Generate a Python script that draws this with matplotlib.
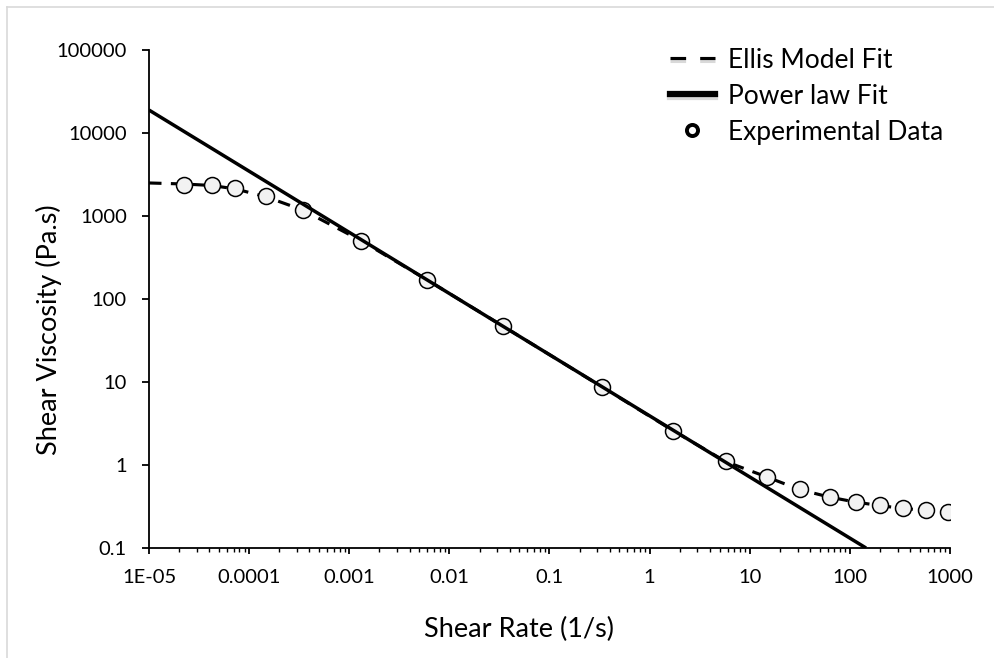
import matplotlib.pyplot as plt
import matplotlib.patheffects as pe
from matplotlib.lines import Line2D
from matplotlib.ticker import LogLocator, FixedLocator, NullLocator

plt.rcParams['font.family'] = ['Lato', 'DejaVu Sans']

shear_rate = [2.24e-5, 4.24e-5, 7.3e-5, 1.48e-4, 3.44e-4, 1.31e-3, 5.98e-3, 0.0344,
              0.336, 1.71, 5.75, 14.7, 31.6, 62.7, 115, 201, 341, 575, 948]
viscosity = [2360, 2360, 2190, 1740, 1180, 500, 169, 47.3,
             8.78, 2.57, 1.13, 0.72, 0.514, 0.415, 0.361, 0.327, 0.301, 0.287, 0.274]

# Ellis model fit curve
ellis_rate = [1e-5, 2.24e-5, 4.24e-5, 7.3e-5, 1.48e-4, 3.44e-4, 1.31e-3, 5.98e-3, 0.0344,
              0.336, 1.71, 5.75, 14.7, 31.6, 62.7, 115, 201, 341, 575, 948]
ellis_visc = [2500, 2430, 2330, 2120, 1700, 1180, 505, 170, 47,
              8.7, 2.6, 1.1, 0.72, 0.505, 0.41, 0.357, 0.324, 0.299, 0.285, 0.273]

# power law fit line end points
power_rate = [1e-5, 145]
power_visc = [18900, 0.1]

x_ticks = [1e-5, 1e-4, 1e-3, 1e-2, 1e-1, 1, 10, 100, 1000]
x_tick_labels = ['1E-05', '0.0001', '0.001', '0.01', '0.1', '1', '10', '100', '1000']
y_ticks = [0.1, 1, 10, 100, 1000, 10000, 100000]
y_tick_labels = ['0.1', '1', '10', '100', '1000', '10000', '100000']

fig = plt.figure(figsize=(9.95, 6.58), dpi=100)
ax = fig.add_axes([149 / 995, 1 - 548 / 658, 801 / 995, 498 / 658])

ax.plot(ellis_rate, ellis_visc, color='black', lw=2.25, dashes=(4, 3), zorder=2)
ax.plot(shear_rate, viscosity, ls='none', marker='o', ms=11.5, mfc='#F2F2F2',
        mec='black', mew=1.1, zorder=3)
ax.plot(power_rate, power_visc, color='black', lw=2.5, zorder=4, solid_capstyle='butt')

ax.set_xscale('log')
ax.set_yscale('log')
ax.set_xlim(1e-5, 1000)
ax.set_ylim(0.1, 100000)

ax.xaxis.set_major_locator(FixedLocator(x_ticks))
ax.set_xticklabels(x_tick_labels)
ax.xaxis.set_minor_locator(LogLocator(base=10, subs=range(2, 10), numticks=20))
ax.yaxis.set_major_locator(FixedLocator(y_ticks))
ax.set_yticklabels(y_tick_labels)
ax.yaxis.set_minor_locator(NullLocator())

for s in ['top', 'right']:
    ax.spines[s].set_visible(False)
for s in ['left', 'bottom']:
    ax.spines[s].set_linewidth(1.3)
    ax.spines[s].set_color('black')

ax.tick_params(axis='x', which='major', direction='out', length=4.5, width=1.3,
               labelsize=14.5, pad=10.5)
ax.tick_params(axis='x', which='minor', direction='out', length=3, width=1.0)
ax.tick_params(axis='y', which='major', direction='out', length=5, width=1.3,
               labelsize=14.5, pad=11)

ax.set_xlabel('Shear Rate (1/s)', fontsize=19.5, va='baseline')
ax.xaxis.set_label_coords(0.462, -0.1787)
ax.set_ylabel('Shear Viscosity (Pa.s)', fontsize=19.5, va='baseline')
ax.yaxis.set_label_coords(-0.1149, 0.438)

shadow = [pe.SimpleLineShadow(offset=(0, -2), alpha=0.15), pe.Normal()]
handles = [
    Line2D([], [], color='black', lw=2.25, dashes=(5, 4.5), path_effects=shadow),
    Line2D([], [], color='black', lw=4.5, path_effects=shadow),
    Line2D([], [], ls='none', marker='o', ms=8, mfc='white', mec='black', mew=2.8),
]
labels = ['Ellis Model Fit', 'Power law Fit', 'Experimental Data']
ax.legend(handles, labels, loc='upper left', bbox_to_anchor=(0.650, 1.005),
          frameon=False, fontsize=19, handlelength=1.7, handletextpad=0.5,
          labelspacing=0.42, borderpad=0, borderaxespad=0)

# light grey chart-area border (left and top edges visible)
fig.add_artist(Line2D([7 / 995, 7 / 995], [0, 1 - 7 / 658], color='#D9D9D9', lw=1.2,
                      transform=fig.transFigure))
fig.add_artist(Line2D([7 / 995, 1], [1 - 7 / 658, 1 - 7 / 658], color='#D9D9D9', lw=1.2,
                      transform=fig.transFigure))

fig.savefig('out.png', dpi=100)
